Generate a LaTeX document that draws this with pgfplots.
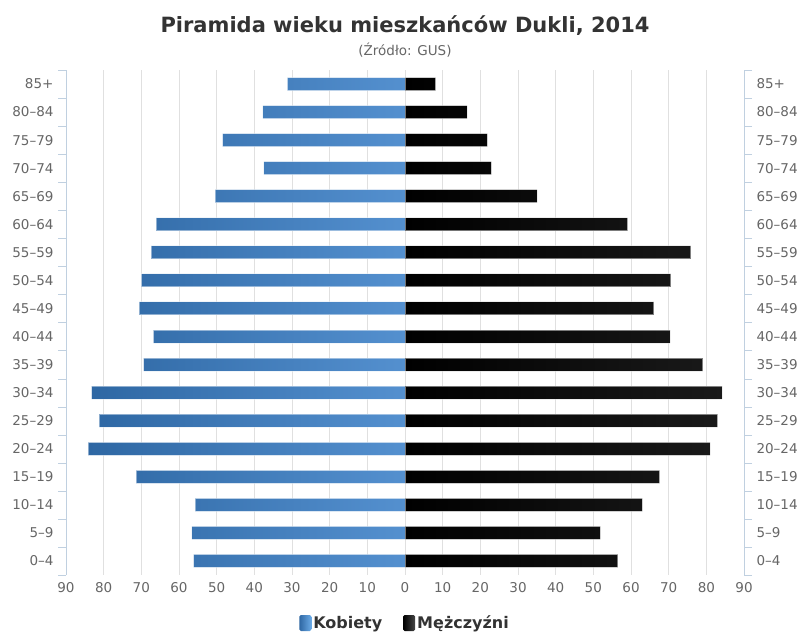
\documentclass[border=0pt]{standalone}
\usepackage{pgfplots}
\usepackage{pgfplotstable}
\pgfplotsset{compat=1.18}
\usepackage{fontspec}
\setmainfont{DejaVu Sans}
\definecolor{axisc}{HTML}{C0D0E0}
\definecolor{gridc}{HTML}{E0E0E0}
\definecolor{labc}{HTML}{666666}
\definecolor{titc}{HTML}{333333}
\definecolor{fdark}{HTML}{2E67A3}
\definecolor{fmid}{HTML}{6AAAE6}
\definecolor{fright}{HTML}{5490CF}
\definecolor{mdark}{HTML}{000000}
\definecolor{mmid}{HTML}{464646}
\definecolor{mright}{HTML}{1A1A1A}
\pgfplotstableread{
y f m
0 56.1 56.5
1 56.6 51.9
2 55.7 63.0
3 71.4 67.6
4 84.1 81.0
5 81.2 83.0
6 83.2 84.2
7 69.4 79.1
8 66.8 70.4
9 70.6 66.1
10 70.0 70.6
11 67.4 75.9
12 66.1 59.1
13 50.4 35.1
14 37.5 22.9
15 48.4 21.9
16 37.7 16.5
17 31.2 8.1
}\pyr
\def\agelabels{0–4,5–9,10–14,15–19,20–24,25–29,30–34,35–39,40–44,45–49,50–54,55–59,60–64,65–69,70–74,75–79,80–84,85+}
\begin{document}
\begin{tikzpicture}[x=1pt,y=1pt]
\path[use as bounding box] (0,0) rectangle (802,632);
\node[font=\bfseries\fontsize{21}{25}\selectfont, text=titc] at (405,606) {Piramida wieku mieszkańców Dukli, 2014};
\node[font=\fontsize{13.5}{16}\selectfont, text=labc] at (405,581.5) {(Źródło: GUS)};
\begin{axis}[
  at={(66pt,57pt)}, anchor=south west, scale only axis,
  width=678pt, height=505pt,
  xmin=-90, xmax=90, ymin=-0.5, ymax=17.5,
  xbar,
  separate axis lines,
  x axis line style={draw=none},
  y axis line style={draw=axisc},
  xtick={-90,-80,...,90},
  xticklabel={\pgfmathparse{abs(\tick)}\pgfmathprintnumber{\pgfmathresult}},
  /pgf/number format/assume math mode=true,
  xmajorgrids, major grid style={gridc},
  major tick length=0pt,
  ytick={0,...,17},
  yticklabels/.expanded={\agelabels},
  minor ytick={-0.5,0.5,...,17.5},
  minor tick length=8pt,
  minor y tick style={axisc},
  tick align=outside,
  ytick pos=left,
  tick label style={font=\fontsize{13.5}{16}\selectfont, text=labc},
  xticklabel style={yshift=-4pt},
  yticklabel style={xshift=-9pt},
  legend columns=2,
  legend style={draw=none, fill=none, at={(rel axis cs:0.5,0)}, anchor=center, yshift=-48pt,
    font=\bfseries\fontsize{16}{18}\selectfont, text=titc,
    /tikz/every even column/.append style={column sep=19pt}},
  legend cell align=left,
]
\addplot[xbar, bar shift=0pt, bar width=13pt, left color=fdark, middle color=fmid, right color=fright,
  draw=white, draw opacity=0.45, line width=1pt,
  legend image code/.code={\path[draw=none,rounded corners=1.5pt,left color=fdark,right color=fmid] (0pt,-8pt) rectangle (12pt,8pt);}]
  table[x expr=-\thisrow{f}, y=y] {\pyr};
\addlegendentry{Kobiety}
\addplot[xbar, bar shift=0pt, bar width=13pt, left color=mdark, middle color=mmid, right color=mright,
  draw=white, draw opacity=0.45, line width=1pt,
  legend image code/.code={\path[draw=none,rounded corners=1.5pt,left color=mdark,right color=mmid] (0pt,-8pt) rectangle (12pt,8pt);}]
  table[x=m, y=y] {\pyr};
\addlegendentry{Mężczyźni}
\end{axis}
\begin{axis}[
  at={(66pt,57pt)}, anchor=south west, scale only axis,
  width=678pt, height=505pt,
  xmin=-90, xmax=90, ymin=-0.5, ymax=17.5,
  axis x line=none,
  axis y line*=right,
  y axis line style={draw=axisc,-},
  major tick length=0pt,
  ytick={0,...,17},
  yticklabels/.expanded={\agelabels},
  minor ytick={-0.5,0.5,...,17.5},
  minor tick length=8pt,
  minor y tick style={axisc},
  tick align=outside,
  ytick pos=right, yticklabel pos=right,
  tick label style={font=\fontsize{13.5}{16}\selectfont, text=labc},
  yticklabel style={xshift=9pt},
]
\end{axis}
\end{tikzpicture}
\end{document}
